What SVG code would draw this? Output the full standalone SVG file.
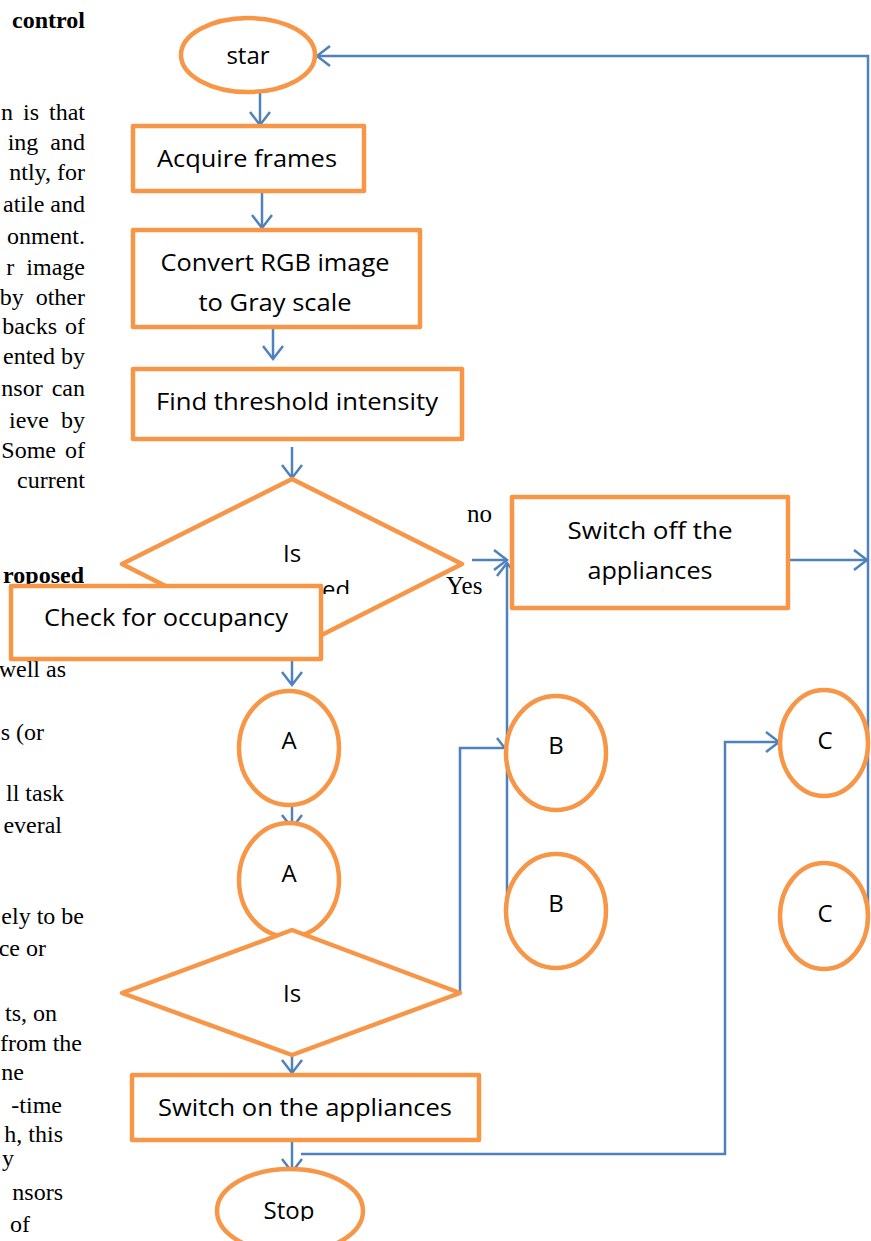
<svg xmlns="http://www.w3.org/2000/svg" width="871" height="1241" viewBox="0 0 871 1241">
<style>
.bg{font-family:"Liberation Serif","Times New Roman",serif;font-size:24px;fill:#000;text-anchor:end}
.bgb{font-weight:bold}
.shape{fill:#fff;stroke:#F79646;stroke-width:4.5;stroke-linejoin:round}
.lbl{font-family:"Open Sans","Noto Sans",sans-serif;font-size:24px;fill:#000;text-anchor:middle}
.yn{font-family:"Liberation Serif","Times New Roman",serif;font-size:25px;fill:#000}
#connectors path{fill:none;stroke:#4F81BD;stroke-width:2.5}
</style>
<defs>
<marker id="arr" viewBox="0 0 14 20" refX="13" refY="10" markerWidth="14" markerHeight="20" markerUnits="userSpaceOnUse" orient="auto" overflow="visible">
<path d="M0,0 L13,10 L0,20" fill="none" stroke="#4F81BD" stroke-width="2.5"/>
</marker>
<clipPath id="clipEd"><rect x="0" y="0" width="871" height="594"/></clipPath>
<clipPath id="clipStop"><rect x="0" y="0" width="871" height="1221"/></clipPath>
</defs>
<rect width="871" height="1241" fill="#fff"/>

<g id="page-text">
<text class="bg bgb" x="85" y="28">control</text>
<text class="bg" x="85" y="120" word-spacing="4">n is that</text>
<text class="bg" x="85" y="150" word-spacing="6">ing and</text>
<text class="bg" x="85" y="180">ntly, for</text>
<text class="bg" x="85" y="212">atile and</text>
<text class="bg" x="85" y="244">onment.</text>
<text class="bg" x="85" y="275" word-spacing="6">r image</text>
<text class="bg" x="85" y="305" word-spacing="6">by other</text>
<text class="bg" x="85" y="334" word-spacing="2">backs of</text>
<text class="bg" x="85" y="364">ented by</text>
<text class="bg" x="85" y="396" word-spacing="3">nsor can</text>
<text class="bg" x="85" y="428" word-spacing="6">ieve by</text>
<text class="bg" x="85" y="458" word-spacing="3">Some of</text>
<text class="bg" x="85" y="488">current</text>
<text class="bg bgb" x="84" y="583">roposed</text>
<text class="bg" x="66" y="677">well as</text>
<text class="bg" x="44" y="740">s (or</text>
<text class="bg" x="64" y="801">ll task</text>
<text class="bg" x="62" y="833">everal</text>
<text class="bg" x="84" y="924">ely to be</text>
<text class="bg" x="46" y="956">ce or</text>
<text class="bg" x="57" y="1021">ts, on</text>
<text class="bg" x="82" y="1051">from the</text>
<text class="bg" x="24" y="1080">ne</text>
<text class="bg" x="62" y="1113">-time</text>
<text class="bg" x="63" y="1142">h, this</text>
<text class="bg" x="14" y="1166">y</text>
<text class="bg" x="63" y="1200">nsors</text>
<text class="bg" x="30" y="1232">of</text>
</g>

<g id="connectors">
<path d="M260,93 V125" marker-end="url(#arr)"/>
<path d="M262,192 V228" marker-end="url(#arr)"/>
<path d="M273,329 V359" marker-end="url(#arr)"/>
<path d="M292,447 V478" marker-end="url(#arr)"/>
<path d="M472,560 H507" marker-end="url(#arr)"/>
<path d="M507,912 V563" marker-end="url(#arr)"/>
<path d="M292,650 V685" marker-end="url(#arr)"/>
<path d="M292,795 V828" marker-end="url(#arr)"/>
<path d="M460,993 V748 H507 V751" marker-end="url(#arr)"/>
<path d="M292,1041 V1073" marker-end="url(#arr)"/>
<path d="M292,1140 V1172" marker-end="url(#arr)"/>
<path d="M301,1154 H725 V742 H779" marker-end="url(#arr)"/>
<path d="M789,560 H867" marker-end="url(#arr)"/>
<path d="M868,912 V56 H317" marker-end="url(#arr)"/>
</g>

<g id="node-start">
<ellipse class="shape" cx="248" cy="55" rx="67" ry="37"/>
<text class="lbl" x="248" y="64">star</text>
</g>
<g id="node-acquire">
<rect class="shape" x="133" y="126" width="231" height="65"/>
<text class="lbl" x="247" y="167" textLength="180" lengthAdjust="spacingAndGlyphs">Acquire frames</text>
</g>
<g id="node-convert">
<rect class="shape" x="133" y="230" width="287" height="97"/>
<text class="lbl" x="275" y="271" textLength="229" lengthAdjust="spacingAndGlyphs">Convert RGB image</text>
<text class="lbl" x="275" y="311" textLength="153" lengthAdjust="spacingAndGlyphs">to Gray scale</text>
</g>
<g id="node-threshold">
<rect class="shape" x="133" y="369" width="329" height="70"/>
<text class="lbl" x="297" y="410" textLength="282" lengthAdjust="spacingAndGlyphs">Find threshold intensity</text>
</g>
<g id="node-decision1">
<polygon class="shape" points="292,479 462,564 292,650 122,564"/>
<text class="lbl" x="292" y="562">Is</text>
<text class="lbl" x="336" y="598" clip-path="url(#clipEd)">ed</text>
</g>
<g id="node-check">
<rect class="shape" x="11" y="586" width="310" height="73"/>
<text class="lbl" x="166" y="626" textLength="244" lengthAdjust="spacingAndGlyphs">Check for occupancy</text>
</g>
<g id="node-switchoff">
<rect class="shape" x="512" y="497" width="276" height="111"/>
<text class="lbl" x="650" y="539" textLength="165" lengthAdjust="spacingAndGlyphs">Switch off the</text>
<text class="lbl" x="650" y="579" textLength="125" lengthAdjust="spacingAndGlyphs">appliances</text>
</g>
<g id="labels">
<text class="yn" x="467" y="522">no</text>
<text class="yn" x="446" y="594">Yes</text>
</g>
<g id="node-A1">
<ellipse class="shape" cx="289" cy="748" rx="50" ry="57"/>
<text class="lbl" x="289" y="749">A</text>
</g>
<g id="node-A2">
<ellipse class="shape" cx="289" cy="880" rx="50" ry="57"/>
<text class="lbl" x="289" y="882">A</text>
</g>
<g id="node-B1">
<ellipse class="shape" cx="556" cy="753" rx="50" ry="57"/>
<text class="lbl" x="556" y="754">B</text>
</g>
<g id="node-B2">
<ellipse class="shape" cx="556" cy="911" rx="50" ry="57"/>
<text class="lbl" x="556" y="912">B</text>
</g>
<g id="node-C1">
<ellipse class="shape" cx="824" cy="743" rx="44" ry="53"/>
<text class="lbl" x="825" y="749">C</text>
</g>
<g id="node-C2">
<ellipse class="shape" cx="824" cy="916" rx="44" ry="53"/>
<text class="lbl" x="825" y="922">C</text>
</g>
<g id="node-decision2">
<polygon class="shape" points="292,930 460,993 292,1055 122,993"/>
<text class="lbl" x="292" y="1002">Is</text>
</g>
<g id="node-switchon">
<rect class="shape" x="132" y="1075" width="347" height="65"/>
<text class="lbl" x="305" y="1116" textLength="294" lengthAdjust="spacingAndGlyphs">Switch on the appliances</text>
</g>
<g id="node-stop">
<ellipse class="shape" cx="290" cy="1211" rx="73" ry="42"/>
<text class="lbl" x="289" y="1219" clip-path="url(#clipStop)">Stop</text>
</g>
</svg>
